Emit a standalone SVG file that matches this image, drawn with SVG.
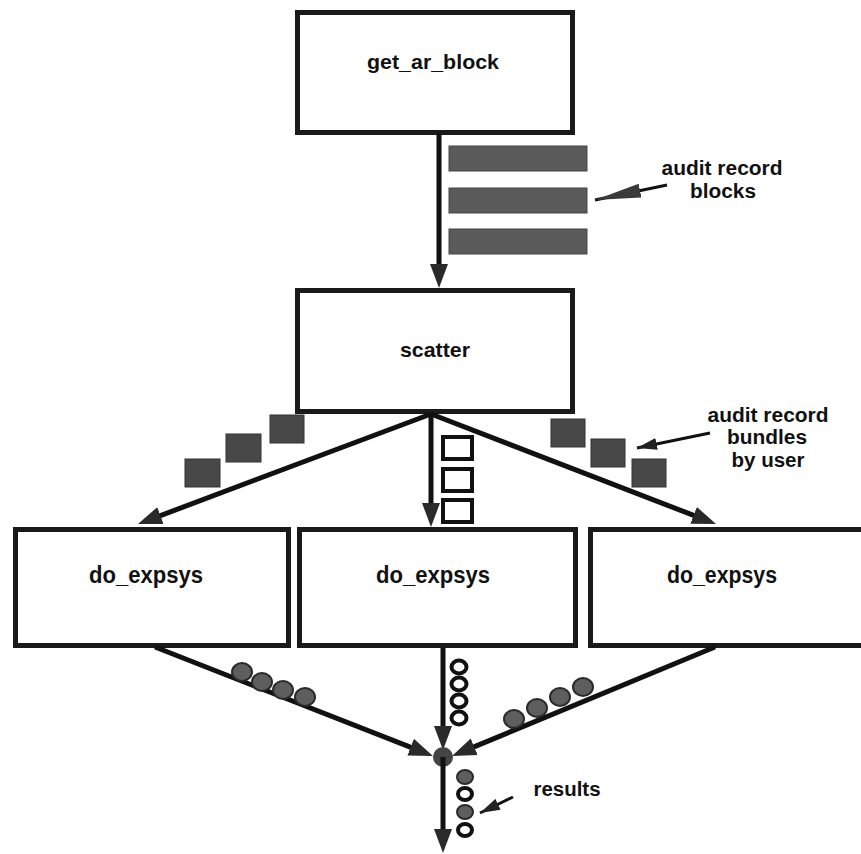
<svg xmlns="http://www.w3.org/2000/svg" width="861" height="854" viewBox="0 0 861 854">
<style>
.box{fill:#fff;stroke:#1a1a1a;stroke-width:5}
.lbl{font-family:"Liberation Sans",Arial,sans-serif;font-weight:bold;fill:#111;text-anchor:middle}
.conn{stroke:#111;stroke-width:5;fill:none}
.thin{stroke:#111;stroke-width:3;fill:none}
.bar{fill:#5a5a5a;stroke:#444;stroke-width:1}
.sq{fill:#484848;stroke:#333;stroke-width:1}
.osq{fill:#fff;stroke:#111;stroke-width:4}
.dot{fill:#5e5e5e;stroke:#2a2a2a;stroke-width:2}
.ring{fill:#fff;stroke:#111;stroke-width:4}
</style>
<defs>
<marker id="ah" markerUnits="userSpaceOnUse" markerWidth="24" markerHeight="20" viewBox="0 0 24 20" refX="12" refY="10" orient="auto">
<path d="M0,1 L24,10 L0,19 z" fill="#2a2a2a"/>
</marker>
<marker id="longhead" markerUnits="userSpaceOnUse" markerWidth="46" markerHeight="14" viewBox="0 0 46 14" refX="46" refY="7" orient="auto">
<path d="M0,0 L46,7 L0,14 z" fill="#3a3a3a"/>
</marker>
<marker id="shorthead" markerUnits="userSpaceOnUse" markerWidth="20" markerHeight="12" viewBox="0 0 20 12" refX="20" refY="6" orient="auto">
<path d="M0,0 L20,6 L0,12 z" fill="#222"/>
</marker>
</defs>
<rect width="861" height="854" fill="#fff"/>

<g id="get_ar_block">
<rect class="box" x="297.5" y="12.5" width="275" height="120"/>
<text class="lbl" x="433" y="69" font-size="21" textLength="132" lengthAdjust="spacingAndGlyphs">get_ar_block</text>
</g>
<g id="scatter">
<rect class="box" x="297.5" y="290.5" width="275" height="121"/>
<text class="lbl" x="435" y="357" font-size="21" textLength="70" lengthAdjust="spacingAndGlyphs">scatter</text>
</g>
<g id="do_expsys_1">
<rect class="box" x="15.5" y="529.5" width="273" height="116"/>
<text class="lbl" x="146" y="583" font-size="23" textLength="114" lengthAdjust="spacingAndGlyphs">do_expsys</text>
</g>
<g id="do_expsys_2">
<rect class="box" x="299.5" y="529.5" width="276" height="116"/>
<text class="lbl" x="433" y="583" font-size="23" textLength="114" lengthAdjust="spacingAndGlyphs">do_expsys</text>
</g>
<g id="do_expsys_3">
<rect class="box" x="590.5" y="529.5" width="280" height="116"/>
<text class="lbl" x="722" y="583" font-size="23" textLength="110" lengthAdjust="spacingAndGlyphs">do_expsys</text>
</g>

<g id="connectors">
<line class="conn" x1="439" y1="133" x2="439" y2="276" marker-end="url(#ah)"/>
<line class="conn" x1="431" y1="414" x2="149.2" y2="519.8" marker-end="url(#ah)"/>
<line class="conn" x1="431" y1="414" x2="431" y2="515" marker-end="url(#ah)"/>
<line class="conn" x1="431" y1="414" x2="704.8" y2="519.7" marker-end="url(#ah)"/>
<line class="conn" x1="155" y1="647" x2="421.8" y2="751.6" marker-end="url(#ah)"/>
<line class="conn" x1="443" y1="648" x2="443" y2="738" marker-end="url(#ah)"/>
<line class="conn" x1="715" y1="647" x2="463.1" y2="751.4" marker-end="url(#ah)"/>
<circle cx="443" cy="757" r="10" fill="#444"/>
<line class="conn" x1="443" y1="757" x2="443" y2="841" marker-end="url(#ah)"/>
</g>

<g id="data">
<rect class="bar" x="449" y="146" width="138" height="25"/>
<rect class="bar" x="449" y="188" width="138" height="25"/>
<rect class="bar" x="449" y="229" width="138" height="25"/>

<rect class="sq" x="185" y="459" width="35" height="28"/>
<rect class="sq" x="226" y="434" width="35" height="28"/>
<rect class="sq" x="270" y="415" width="34" height="28"/>
<rect class="sq" x="551" y="419" width="34" height="28"/>
<rect class="sq" x="591" y="439" width="34" height="28"/>
<rect class="sq" x="632" y="459" width="34" height="28"/>

<rect class="osq" x="443" y="437" width="29" height="22"/>
<rect class="osq" x="443" y="469" width="29" height="22"/>
<rect class="osq" x="443" y="500" width="29" height="22"/>

<ellipse class="dot" cx="242" cy="672" rx="10" ry="9"/>
<ellipse class="dot" cx="262" cy="682" rx="10" ry="9"/>
<ellipse class="dot" cx="283" cy="690" rx="10" ry="9"/>
<ellipse class="dot" cx="305" cy="697" rx="10" ry="9"/>
<ellipse class="dot" cx="514" cy="719" rx="10" ry="9"/>
<ellipse class="dot" cx="537" cy="708" rx="10" ry="9"/>
<ellipse class="dot" cx="560" cy="697" rx="10" ry="9"/>
<ellipse class="dot" cx="583" cy="687" rx="10" ry="9"/>

<ellipse class="ring" cx="459" cy="667" rx="7.5" ry="6.5"/>
<ellipse class="ring" cx="459" cy="684" rx="7.5" ry="6.5"/>
<ellipse class="ring" cx="459" cy="701" rx="7.5" ry="6.5"/>
<ellipse class="ring" cx="459" cy="718" rx="7.5" ry="6.5"/>

<ellipse class="dot" cx="465" cy="777" rx="8" ry="7"/>
<ellipse class="ring" cx="465" cy="794" rx="7" ry="6"/>
<ellipse class="dot" cx="465" cy="812" rx="8" ry="7"/>
<ellipse class="ring" cx="465" cy="830" rx="7" ry="6"/>
</g>

<g id="annotations">
<text class="lbl" x="722" y="175" font-size="20" textLength="121" lengthAdjust="spacingAndGlyphs">audit record</text>
<text class="lbl" x="723" y="198" font-size="20" textLength="66" lengthAdjust="spacingAndGlyphs">blocks</text>
<line class="thin" x1="667" y1="185" x2="595" y2="200" marker-end="url(#longhead)"/>

<text class="lbl" x="768" y="422" font-size="20" textLength="121" lengthAdjust="spacingAndGlyphs">audit record</text>
<text class="lbl" x="767" y="444" font-size="20" textLength="80" lengthAdjust="spacingAndGlyphs">bundles</text>
<text class="lbl" x="768" y="467" font-size="20" textLength="73" lengthAdjust="spacingAndGlyphs">by user</text>
<line class="thin" x1="710" y1="433" x2="637" y2="448" marker-end="url(#shorthead)"/>

<text class="lbl" x="567" y="796" font-size="20" textLength="67" lengthAdjust="spacingAndGlyphs">results</text>
<line class="thin" x1="513" y1="797" x2="480" y2="813" marker-end="url(#shorthead)"/>
</g>
</svg>
